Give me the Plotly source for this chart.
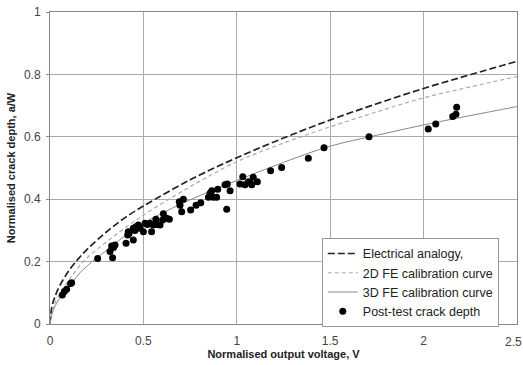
import plotly.graph_objects as go

# curves
curve_x = [0, 0.01, 0.025, 0.05, 0.1, 0.15, 0.2, 0.3, 0.4, 0.5, 0.75, 1.0, 1.25, 1.5, 1.75, 2.0, 2.25, 2.5]
elec_y = [0, 0.055, 0.085, 0.12, 0.17, 0.208, 0.24, 0.294, 0.34, 0.378, 0.462, 0.533, 0.596, 0.654, 0.706, 0.755, 0.799, 0.842]
fe2d_y = [0, 0.04, 0.065, 0.095, 0.14, 0.18, 0.213, 0.262, 0.307, 0.349, 0.44, 0.52, 0.58, 0.632, 0.68, 0.725, 0.76, 0.793]
fe3d_y = [0, 0.03, 0.055, 0.08, 0.118, 0.157, 0.187, 0.235, 0.282, 0.323, 0.398, 0.46, 0.518, 0.57, 0.605, 0.638, 0.668, 0.697]

# post-test crack depth points
pts_x = [0.066, 0.077, 0.089, 0.11, 0.116, 0.255, 0.321, 0.335, 0.33, 0.348, 0.34,
         0.407, 0.416, 0.419, 0.423, 0.446, 0.446, 0.455, 0.46, 0.473, 0.482, 0.5,
         0.509, 0.521, 0.535, 0.544, 0.553, 0.571, 0.567, 0.589, 0.607, 0.603, 0.625,
         0.639, 0.692, 0.696, 0.705, 0.714, 0.753, 0.782, 0.807, 0.848, 0.857, 0.866,
         0.874, 0.892, 0.898, 0.937, 0.949, 0.946, 0.964, 1.017, 1.032, 1.044, 1.062,
         1.071, 1.088, 1.11, 1.08, 1.181, 1.24, 1.383, 1.467, 1.708, 2.025, 2.065,
         2.156, 2.173, 2.177]
pts_y = [0.093, 0.104, 0.111, 0.13, 0.132, 0.21, 0.232, 0.212, 0.25, 0.253, 0.245,
         0.259, 0.285, 0.296, 0.29, 0.269, 0.307, 0.3, 0.312, 0.317, 0.307, 0.296,
         0.323, 0.319, 0.323, 0.296, 0.317, 0.319, 0.336, 0.317, 0.353, 0.333, 0.339,
         0.336, 0.392, 0.381, 0.36, 0.4, 0.365, 0.381, 0.389, 0.406, 0.419, 0.427,
         0.406, 0.406, 0.432, 0.446, 0.449, 0.368, 0.427, 0.449, 0.472, 0.446, 0.456,
         0.453, 0.47, 0.456, 0.446, 0.491, 0.502, 0.531, 0.565, 0.6, 0.625, 0.641,
         0.665, 0.672, 0.695]

fig = go.Figure()

fig.add_trace(go.Scatter(x=curve_x, y=elec_y, mode="lines", name="Electrical analogy,",
                         line=dict(color="#222222", width=1.7, dash="7px,3px"), line_shape="spline"))
fig.add_trace(go.Scatter(x=curve_x, y=fe2d_y, mode="lines", name="2D FE calibration curve",
                         line=dict(color="#aaaaaa", width=1.2, dash="4px,3px"), line_shape="spline"))
fig.add_trace(go.Scatter(x=curve_x, y=fe3d_y, mode="lines", name="3D FE calibration curve",
                         line=dict(color="#888888", width=1), line_shape="spline"))
fig.add_trace(go.Scatter(x=pts_x, y=pts_y, mode="markers", name="Post-test crack depth",
                         marker=dict(color="black", size=7)))

fig.update_layout(
    width=523, height=365,
    margin=dict(l=50, r=6, t=12, b=41),
    paper_bgcolor="white", plot_bgcolor="white",
    font=dict(family="Arial, Liberation Sans", size=12, color="#444444"),
    legend=dict(x=0.582, y=0.276, xanchor="left", yanchor="top",
                bgcolor="white", bordercolor="#999999", borderwidth=1,
                font=dict(size=12.5, color="#222222"), tracegroupgap=0,
                itemwidth=30),
)
fig.update_xaxes(range=[0, 2.5], dtick=0.5, showgrid=True, gridcolor="#aaaaaa", gridwidth=1,
                 showline=True, linecolor="#888888", mirror=True, zeroline=False,
                 automargin=False, ticks="", ticklabelstandoff=6,
                 title=dict(text="<b>Normalised output voltage, V</b>", font=dict(size=11, color="#222222"),
                            standoff=2))
fig.update_yaxes(range=[0, 1], dtick=0.2, showgrid=True, gridcolor="#aaaaaa", gridwidth=1,
                 showline=True, linecolor="#888888", mirror=True, zeroline=False,
                 automargin=False, ticks="outside", ticklen=3, tickcolor="#888888",
                 ticklabelstandoff=3,
                 tickvals=[0, 0.2, 0.4, 0.6, 0.8, 1], ticktext=["0", "0.2", "0.4", "0.6", "0.8", "1"],
                 title=dict(text="<b>Normalised crack depth, a/W</b>", font=dict(size=11, color="#222222"),
                            standoff=6))

# last x tick label runs past the page edge, plotly drops it, so put it back (nudged inside)
fig.add_annotation(x=2.5, xref="x", y=0, yref="paper", yanchor="top", yshift=-9, xshift=-4,
                   text="2.5", showarrow=False, font=dict(size=12, color="#444444"))

# drop the page's default body margin so the figure sits at the window's corner
fig.write_html("out.html", config={"displayModeBar": False},
               post_script="document.body.style.margin='0';")
